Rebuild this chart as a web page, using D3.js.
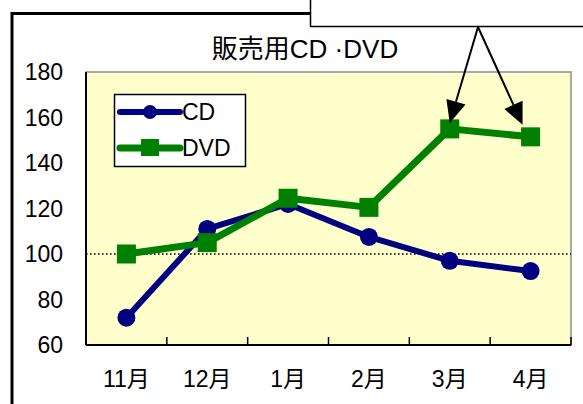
<!DOCTYPE html>
<html>
<head>
<meta charset="utf-8">
<script src="https://cdn.jsdelivr.net/npm/d3@7"></script>
<style>
  body { margin: 0; background: #fff; }
  svg { display: block; }
  text { font-family: "Liberation Sans", Arial, "Noto Sans CJK JP", sans-serif; }
</style>
</head>
<body>
<script>
// data
var months = ["11月", "12月", "1月", "2月", "3月", "4月"];
var cdValues = [72, 111, 122, 107.5, 97, 92.5];
var dvdValues = [100, 105, 124.5, 120.5, 155, 151.5];
var yTicks = [60, 80, 100, 120, 140, 160, 180];
var chartTitle = "販売用CD ·DVD";

var svgWidth = 583;
var svgHeight = 404;

// plot area
var plot = { left: 86, top: 72, right: 571, bottom: 345 };

var svg = d3.select("body")
    .append("svg")
    .attr("width", svgWidth)
    .attr("height", svgHeight);

var x = d3.scaleBand()
    .domain(months)
    .range([plot.left, plot.right])
    .padding(0);

var y = d3.scaleLinear()
    .domain([60, 180])
    .range([plot.bottom, plot.top]);

//outer frame (runs off the picture to the right and bottom)
svg.append("rect")
    .attr("x", 12)
    .attr("y", 13.5)
    .attr("width", 700)
    .attr("height", 500)
    .attr("fill", "none")
    .attr("stroke", "#000")
    .attr("stroke-width", 3);

//plot background
svg.append("rect")
    .attr("x", plot.left)
    .attr("y", plot.top)
    .attr("width", plot.right - plot.left)
    .attr("height", plot.bottom - plot.top)
    .attr("fill", "#ffffcc")
    .attr("stroke", "#8c8c8c")
    .attr("stroke-width", 1.5);

//dotted reference line at 100
svg.append("line")
    .attr("x1", plot.left)
    .attr("x2", plot.right)
    .attr("y1", y(100))
    .attr("y2", y(100))
    .attr("stroke", "#000")
    .attr("stroke-width", 1.6)
    .attr("stroke-dasharray", "1.6,2.4");

//left axis (line only, labels)
svg.append("line")
    .attr("x1", plot.left).attr("x2", plot.left)
    .attr("y1", plot.top).attr("y2", plot.bottom)
    .attr("stroke", "#000").attr("stroke-width", 2);

svg.selectAll(".ylab")
    .data(yTicks)
    .enter()
    .append("text")
    .attr("class", "ylab")
    .attr("x", 63)
    .attr("y", d => y(d))
    .attr("dy", "0.36em")
    .attr("text-anchor", "end")
    .attr("font-size", 23)
    .text(d => d);

//bottom axis with inward ticks at band edges
svg.append("line")
    .attr("x1", plot.left).attr("x2", plot.right)
    .attr("y1", plot.bottom).attr("y2", plot.bottom)
    .attr("stroke", "#000").attr("stroke-width", 2);

svg.selectAll(".xtick")
    .data(months)
    .enter()
    .append("line")
    .attr("class", "xtick")
    .attr("x1", d => x(d) + x.bandwidth())
    .attr("x2", d => x(d) + x.bandwidth())
    .attr("y1", plot.bottom)
    .attr("y2", plot.bottom - 8)
    .attr("stroke", "#000")
    .attr("stroke-width", 1.5);

svg.selectAll(".xlab")
    .data(months)
    .enter()
    .append("text")
    .attr("class", "xlab")
    .attr("x", d => x(d) + x.bandwidth() / 2)
    .attr("y", 379)
    .attr("dy", "0.36em")
    .attr("text-anchor", "middle")
    .attr("font-size", 23)
    .text(d => d);

//title
svg.append("text")
    .attr("x", 305)
    .attr("y", 58)
    .attr("text-anchor", "middle")
    .attr("font-size", 26)
    .text(chartTitle);

//lines
var cx = (d, i) => x(months[i]) + x.bandwidth() / 2;
var line = d3.line().x(cx).y(d => y(d));

svg.append("path")
    .datum(cdValues)
    .attr("d", line)
    .attr("fill", "none")
    .attr("stroke", "#000080")
    .attr("stroke-width", 6)
    .attr("stroke-linejoin", "round");

svg.selectAll(".cdpt")
    .data(cdValues)
    .enter()
    .append("circle")
    .attr("class", "cdpt")
    .attr("cx", cx)
    .attr("cy", d => y(d))
    .attr("r", 9)
    .attr("fill", "#000080");

svg.append("path")
    .datum(dvdValues)
    .attr("d", line)
    .attr("fill", "none")
    .attr("stroke", "#008000")
    .attr("stroke-width", 7)
    .attr("stroke-linejoin", "round");

var sq = 19;
svg.selectAll(".dvdpt")
    .data(dvdValues)
    .enter()
    .append("rect")
    .attr("class", "dvdpt")
    .attr("x", (d, i) => cx(d, i) - sq / 2)
    .attr("y", d => y(d) - sq / 2)
    .attr("width", sq)
    .attr("height", sq)
    .attr("fill", "#008000");

//legend
var legend = svg.append("g");
legend.append("rect")
    .attr("x", 114.5)
    .attr("y", 94.5)
    .attr("width", 131)
    .attr("height", 72)
    .attr("fill", "#fff")
    .attr("stroke", "#000")
    .attr("stroke-width", 1.5);

legend.append("line")
    .attr("x1", 120).attr("x2", 180).attr("y1", 112).attr("y2", 112)
    .attr("stroke", "#000080").attr("stroke-width", 6).attr("stroke-linecap", "round");
legend.append("circle")
    .attr("cx", 150).attr("cy", 112).attr("r", 7)
    .attr("fill", "#000080");
legend.append("text")
    .attr("x", 182).attr("y", 112).attr("dy", "0.36em")
    .attr("font-size", 23)
    .text("CD");

legend.append("line")
    .attr("x1", 120).attr("x2", 180).attr("y1", 148).attr("y2", 148)
    .attr("stroke", "#008000").attr("stroke-width", 7).attr("stroke-linecap", "round");
legend.append("rect")
    .attr("x", 141).attr("y", 139).attr("width", 18).attr("height", 17)
    .attr("fill", "#008000");
legend.append("text")
    .attr("x", 182).attr("y", 148).attr("dy", "0.36em")
    .attr("font-size", 23)
    .text("DVD");

//callout box with arrows to the last two DVD points
svg.append("rect")
    .attr("x", 310.5)
    .attr("y", -5)
    .attr("width", 300)
    .attr("height", 31.5)
    .attr("fill", "#fff")
    .attr("stroke", "#000")
    .attr("stroke-width", 1.5);

var apex = [478, 27];
var targets = [
    [cx(0, 4), y(dvdValues[4]) - 6],
    [cx(0, 5) - 8, y(dvdValues[5]) - 12]
];
var headLen = 22, headHalf = 10;

targets.forEach(function(t) {
    var dx = t[0] - apex[0], dy = t[1] - apex[1];
    var len = Math.sqrt(dx * dx + dy * dy);
    var ux = dx / len, uy = dy / len;
    var bx = t[0] - ux * headLen, by = t[1] - uy * headLen;

    svg.append("line")
        .attr("x1", apex[0]).attr("y1", apex[1])
        .attr("x2", bx).attr("y2", by)
        .attr("stroke", "#000")
        .attr("stroke-width", 2);

    svg.append("path")
        .attr("d", "M" + t[0] + "," + t[1] +
            "L" + (bx - uy * headHalf) + "," + (by + ux * headHalf) +
            "L" + (bx + uy * headHalf) + "," + (by - ux * headHalf) + "Z")
        .attr("fill", "#000");
});
</script>
</body>
</html>
